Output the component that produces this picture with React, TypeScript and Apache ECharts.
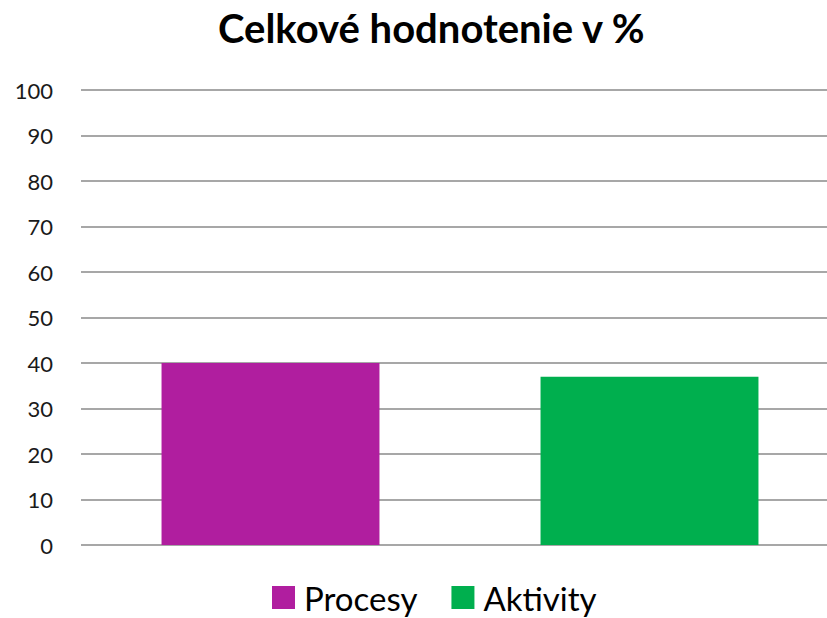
import React, { useEffect, useRef } from "react";
import * as echarts from "echarts";

const categories = ["Procesy", "Aktivity"];
const seriesNames = ["Procesy", "Aktivity"];
const procesyValues: (number | string)[] = [40, "-"];
const aktivityValues: (number | string)[] = ["-", 37];
const colors = ["#B01E9F", "#00AF4E"];
const titleText = "Celkové hodnotenie v %";

export default function App() {
  const ref = useRef<HTMLDivElement>(null);
  useEffect(() => {
    if (!ref.current) return;
    const chart = echarts.init(ref.current, undefined, { renderer: "svg" });
    chart.setOption({
      animation: false,
      backgroundColor: "#ffffff",
      title: {
        text: titleText,
        left: 218,
        top: 8,
        padding: 0,
        textStyle: {
          fontFamily: "Lato",
          fontWeight: "bold",
          fontSize: 40,
          color: "#000000",
        },
      },
      legend: {
        data: seriesNames,
        left: 272,
        top: 581,
        padding: 0,
        itemWidth: 23,
        itemHeight: 23,
        itemGap: 34,
        icon: "rect",
        textStyle: {
          fontFamily: "Lato",
          fontSize: 33,
          lineHeight: 32,
          color: "#000000",
          padding: [0, 0, 0, 4],
        },
      },
      grid: {
        left: 81,
        top: 90,
        width: 758,
        height: 455,
        containLabel: false,
        outerBoundsMode: "none",
      },
      xAxis: {
        type: "category",
        data: categories,
        axisLine: { show: false },
        axisTick: { show: false },
        axisLabel: { show: false },
      },
      yAxis: {
        type: "value",
        min: 0,
        max: 100,
        interval: 10,
        axisLine: { show: false },
        axisTick: { show: false },
        axisLabel: {
          fontFamily: "Lato",
          fontSize: 22,
          color: "#1a1a1a",
          margin: 28,
        },
        splitLine: { lineStyle: { color: "#8a8a8a", width: 1.5 } },
      },
      series: [
        {
          name: seriesNames[0],
          type: "bar",
          stack: "s",
          data: procesyValues,
          barWidth: "57.5%",
          itemStyle: { color: colors[0] },
        },
        {
          name: seriesNames[1],
          type: "bar",
          stack: "s",
          data: aktivityValues,
          barWidth: "57.5%",
          itemStyle: { color: colors[1] },
        },
      ],
    });
    return () => chart.dispose();
  }, []);
  return (
    <div
      ref={ref}
      style={{ position: "fixed", left: 0, top: 0, width: 827, height: 618 }}
    />
  );
}
